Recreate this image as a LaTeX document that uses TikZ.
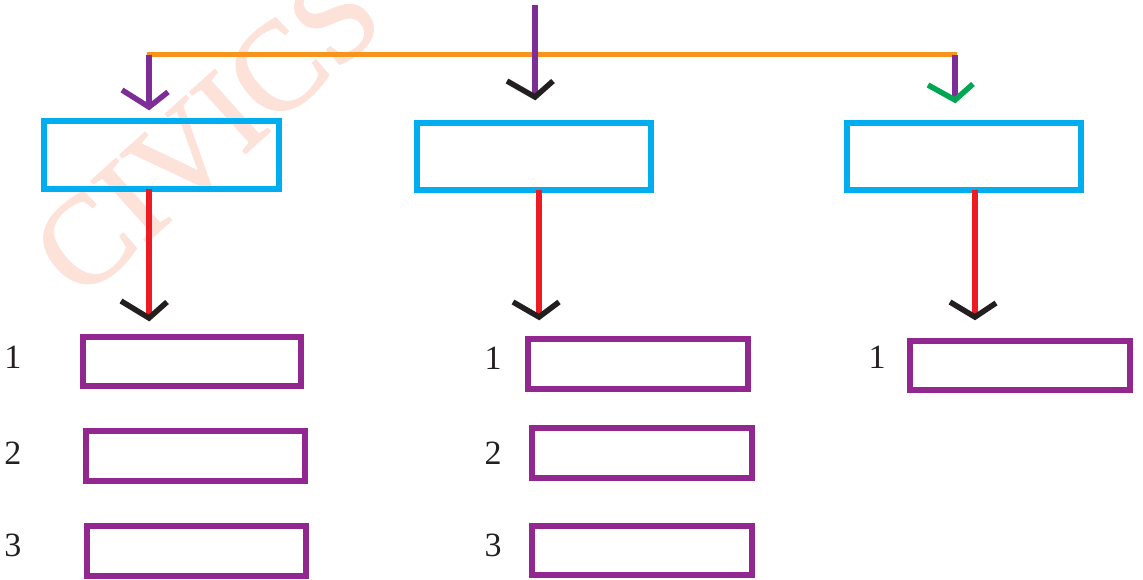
\documentclass[tikz,border=0pt]{standalone}
\usepackage{fontspec}
\setmainfont{Liberation Serif}
\newfontfamily\wmfont[FakeBold=1.5]{Liberation Serif}
\usetikzlibrary{calc}
\definecolor{cyanb}{RGB}{0,174,239}
\definecolor{boxpurple}{RGB}{146,39,143}
\definecolor{linepurple}{RGB}{125,45,150}
\definecolor{orangel}{RGB}{247,148,29}
\definecolor{redl}{RGB}{237,28,36}
\definecolor{greenh}{RGB}{0,166,81}
\definecolor{blackh}{RGB}{35,31,32}
\definecolor{wmark}{RGB}{252,226,216}
\begin{document}
\begin{tikzpicture}[x=1pt,y=-1pt,
  bluebox/.style={draw=cyanb, line width=6pt, minimum width=234pt, minimum height=67pt, inner sep=0pt, outer sep=0pt},
  pbox/.style={draw=boxpurple, line width=5.5pt, minimum width=219pt, minimum height=50pt, inner sep=0pt, outer sep=0pt},
  num/.style={inner sep=0pt, font=\fontsize{34}{34}\selectfont, text=blackh},
  purpleline/.style={draw=linepurple, line width=5.5pt},
  orangeline/.style={draw=orangel, line width=5pt},
  redline/.style={draw=redl, line width=5.5pt},
  headblack/.style={draw=blackh, line width=5.5pt},
  headpurple/.style={draw=linepurple, line width=5.5pt},
  headgreen/.style={draw=greenh, line width=5.5pt}]
\useasboundingbox (0,0) rectangle (1143,580);
\clip (0,0) rectangle (1143,580);
% watermark
\node[rotate=42, text=wmark, inner sep=0pt, font=\wmfont\fontsize{126}{126}\selectfont] (wm) at (207,133) {CIVICS};
% top level boxes
\node[bluebox, minimum width=235pt, minimum height=68pt] (b1) at (161.5,155) {};
\node[bluebox] (b2) at (534,156.5) {};
\node[bluebox] (b3) at (964,156.5) {};
% lower boxes
\node[pbox, minimum width=218pt, minimum height=49pt] (l1) at (192,361.5) {};
\node[pbox] (l2) at (195.5,456) {};
\node[pbox] (l3) at (196.5,551) {};
\node[pbox, minimum width=220pt] (m1) at (638,364) {};
\node[pbox, minimum width=220pt] (m2) at (642,453) {};
\node[pbox, minimum width=220pt, minimum height=49pt] (m3) at (642,550.5) {};
\node[pbox, minimum width=220pt, minimum height=49pt] (r1) at (1020,365.5) {};
% numbers
\node[num] (nl1) at (13,357) {1};
\node[num] (nl2) at (13,453) {2};
\node[num] (nl3) at (13,545) {3};
\node[num] (nm1) at (493,358) {1};
\node[num] (nm2) at (493,453) {2};
\node[num] (nm3) at (493,545) {3};
\node[num] (nr1) at (877,357) {1};
% coordinates
\coordinate (top) at (535,5);
\coordinate (ta2) at (535,97);
\coordinate (jl) at (147,55);
\coordinate (jr) at (957,55);
\coordinate (ta1) at (149,107);
\coordinate (ta3) at (955,100);
\coordinate (ra1) at (149,318);
\coordinate (ra2) at (539,317);
\coordinate (ra3) at (975,317);
% connectors top
\draw[orangeline] (jl) -- (jr);
\draw[purpleline] (top) -- (ta2);
\draw[purpleline] (jl -| ta1) -- (ta1);
\draw[purpleline] (jr -| ta3) -- (ta3);
\draw[headpurple] ($(ta1)+(-27,-17)$) -- (ta1) -- ($(ta1)+(19,-15)$);
\draw[headblack] ($(ta2)+(-28,-16)$) -- (ta2) -- ($(ta2)+(18,-16)$);
\draw[headgreen] ($(ta3)+(-27,-15)$) -- (ta3) -- ($(ta3)+(18,-16)$);
% connectors down
\draw[redline] (b1.south -| ra1) -- (ra1);
\draw[redline] (b2.south -| ra2) -- (ra2);
\draw[redline] (b3.south -| ra3) -- (ra3);
\draw[headblack] ($(ra1)+(-28,-17)$) -- (ra1) -- ($(ra1)+(18,-16)$);
\draw[headblack] ($(ra2)+(-26,-15)$) -- (ra2) -- ($(ra2)+(20,-15)$);
\draw[headblack] ($(ra3)+(-25,-15)$) -- (ra3) -- ($(ra3)+(21,-14)$);
\end{tikzpicture}
\end{document}
